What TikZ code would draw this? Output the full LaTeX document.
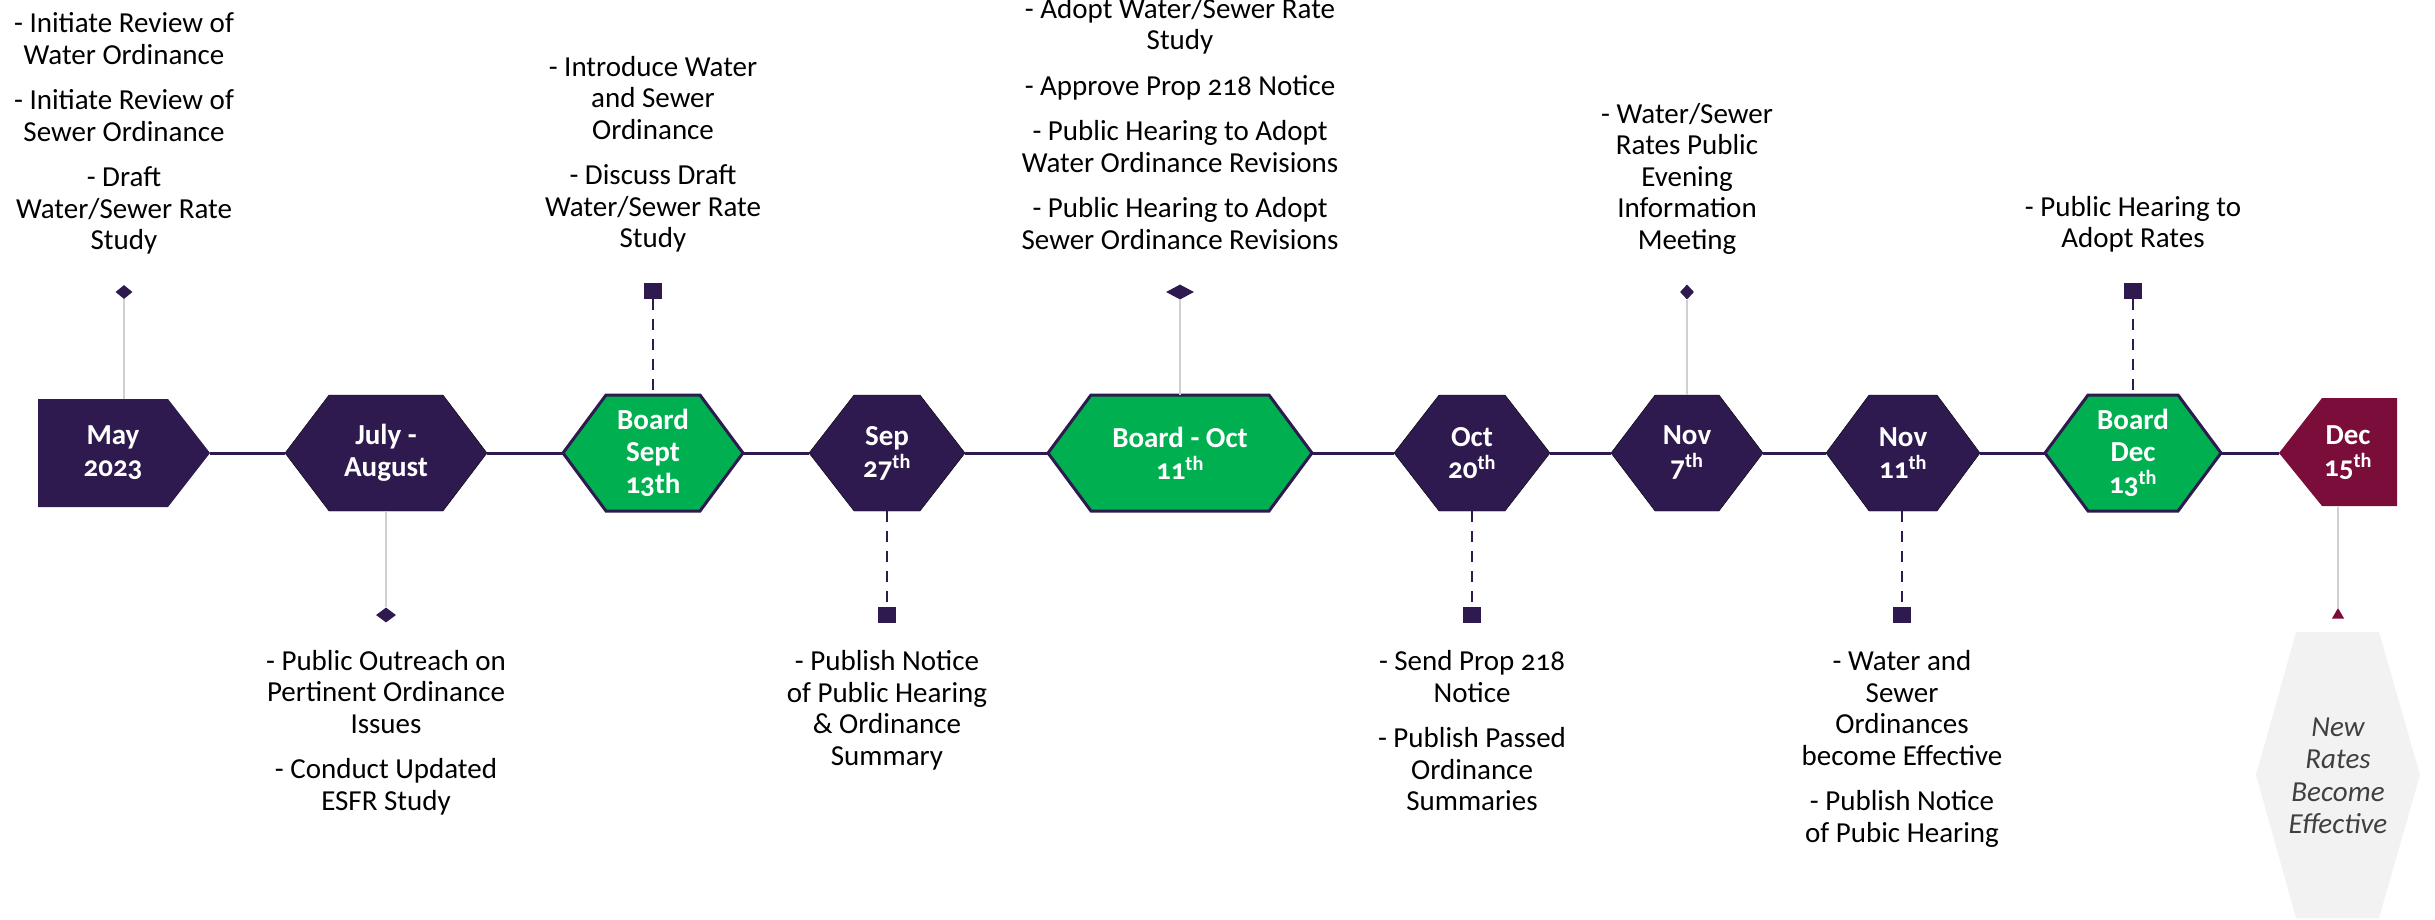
\documentclass[tikz,border=0pt]{standalone}
\usepackage{fontspec}
\setmainfont{Carlito}[Numbers=OldStyle]
\usetikzlibrary{positioning,shapes.geometric}
\definecolor{tlpurple}{HTML}{2E1A4E}
\definecolor{tlgreen}{HTML}{00B050}
\definecolor{tlmaroon}{HTML}{7B0D3B}
\definecolor{stemgrey}{HTML}{D0D0D0}
\definecolor{hexgrey}{HTML}{F2F2F2}
\definecolor{softtext}{HTML}{404040}
\tikzset{
    % hexagon looks: ordinary dates and board meetings
    plain stage/.style={fill=tlpurple}, board stage/.style={fill=tlgreen,draw=tlpurple,line width=3pt},
    stage label/.style={text=white,font=\bfseries\fontsize{29}{32}\selectfont,align=center,minimum height=116pt,inner sep=0},
    note/.style={font=\fontsize{29}{31.5}\selectfont,align=center,inner sep=0,text depth=0pt},
    % markers on the stems
    dmark/.style={diamond,fill=tlpurple,inner sep=0}, smark/.style={rectangle,fill=tlpurple,inner sep=0,minimum width=18pt,minimum height=16pt},
    tmark/.style={regular polygon,regular polygon sides=3,fill=tlmaroon,inner sep=0,minimum size=14pt},
    grey stem/.style={draw=stemgrey,line width=2pt}, dash stem/.style={draw=tlpurple,line width=2.5pt,dash pattern=on 11pt off 9pt},
    link/.style={draw=tlpurple,line width=3pt}
    }
% name, centre x, half width, corner inset, look, label
\newcommand{\hexstage}[6]{%
    \draw[#5] (#2-#3,453) -- (#2-#3+#4,395) -- (#2+#3-#4,395) -- (#2+#3,453) -- (#2+#3-#4,511) -- (#2-#3+#4,511) -- cycle;
    \node[stage label,minimum width=2*#3] (#1) at (#2,453) {#6};}

\begin{document}
\begin{tikzpicture}[x=1pt,y=-1pt]
        \useasboundingbox (0,0) rectangle (2435,919);
        % The stages
        \fill[tlpurple] (38,399) -- (168,399) -- (210,453) -- (168,507) -- (38,507) -- cycle;
        \node[stage label,minimum width=194pt,minimum height=108pt] (may) at (113,453) {May\\2023};
        \hexstage{julaug}{386}{101}{44}{plain stage}{July -\\August}
        \hexstage{bsept}{653}{90}{43}{board stage}{Board\\Sept\\13th}
        \hexstage{sep}{887}{78}{45}{plain stage}{Sep\\27\textsuperscript{th}}
        \hexstage{boct}{1180}{132}{43}{board stage}{Board - Oct\\11\textsuperscript{th}}
        \hexstage{oct}{1472}{78}{45}{plain stage}{Oct\\20\textsuperscript{th}}
        \hexstage{novseven}{1687}{76}{44}{plain stage}{Nov\\7\textsuperscript{th}}
        \hexstage{novel}{1903}{77}{43}{plain stage}{Nov\\11\textsuperscript{th}}
        \hexstage{bdec}{2133}{88}{43}{board stage}{Board\\Dec\\13\textsuperscript{th}}
        \fill[tlmaroon] (2279,453) -- (2322,398) -- (2397,398) -- (2397,506) -- (2322,506) -- cycle;
        \node[stage label,minimum width=138pt,minimum height=108pt] (dec) at (2348,453) {Dec\\15\textsuperscript{th}};
        \foreach \a/\b in {may/julaug,julaug/bsept,bsept/sep,sep/boct,boct/oct,oct/novseven,novseven/novel,novel/bdec,bdec/dec}
            \draw[link] (\a.east) -- (\b.west);
        % markers above and below
        \node[dmark,minimum width=17pt,minimum height=14pt] (mayd) at (124,292) {};
        \node[smark] (bsepts) at (653,291) {};
        \node[dmark,minimum width=28pt,minimum height=15pt] (boctd) at (1180,292) {};
        \node[dmark,minimum width=14pt,minimum height=15pt] (novsevend) at (1687,292) {};
        \node[smark] (bdecs) at (2133,291) {};
        \node[dmark,minimum width=20pt,minimum height=15pt] (julaugd) at (386,615) {};
        \node[smark] (seps) at (887,615) {};
        \node[smark] (octs) at (1472,615) {};
        \node[smark] (novels) at (1902,615) {};
        \node[tmark] (dect) at (2338,615) {};
        \draw[grey stem] (mayd.south) -- (mayd |- may.north);
        \draw[dash stem] (bsepts.south) -- (bsept.north);
        \draw[grey stem] (boctd.south) -- (boct.north);
        \draw[grey stem] (novsevend.south) -- (novseven.north);
        \draw[dash stem] (bdecs.south) -- (bdec.north);
        \draw[grey stem] (julaug.south) -- (julaugd.north);
        \draw[dash stem] (sep.south) -- (seps.north);
        \draw[dash stem] (oct.south) -- (octs.north);
        \draw[dash stem] (novels |- novel.south) -- (novels.north);
        \draw[grey stem] (dect.north) -- (dect |- dec.south);
        % notes
        \node[note,above=35pt of mayd] {- Initiate Review of\\Water Ordinance\\[14pt]- Initiate Review of\\Sewer Ordinance\\[14pt]- Draft\\Water/Sewer Rate\\Study};
        \node[note,above=35pt of bsepts] {- Introduce Water\\and Sewer\\Ordinance\\[14pt]- Discuss Draft\\Water/Sewer Rate\\Study};
        \node[note,above=35pt of boctd] {- Adopt Water/Sewer Rate\\Study\\[14pt]- Approve Prop 218 Notice\\[14pt]- Public Hearing to Adopt\\Water Ordinance Revisions\\[14pt]- Public Hearing to Adopt\\Sewer Ordinance Revisions};
        \node[note,above=35pt of novsevend] {- Water/Sewer\\Rates Public\\Evening\\Information\\Meeting};
        \node[note,above=35pt of bdecs] {- Public Hearing to\\Adopt Rates};
        \node[note,below=27pt of julaugd] {- Public Outreach on\\Pertinent Ordinance\\Issues\\[14pt]- Conduct Updated\\ESFR Study};
        \node[note,below=27pt of seps] {- Publish Notice\\of Public Hearing\\\& Ordinance\\Summary};
        \node[note,below=27pt of octs] {- Send Prop 218\\Notice\\[14pt]- Publish Passed\\Ordinance\\Summaries};
        \node[note,below=27pt of novels] {- Water and\\Sewer\\Ordinances\\become Effective\\[14pt]- Publish Notice\\of Pubic Hearing};
        % rates outcome
        \fill[hexgrey] (2256,775) -- (2296,632) -- (2379,632) -- (2420,775) -- (2379,918) -- (2296,918) -- cycle;
        \node[align=center,inner sep=0,text=softtext,font=\itshape\fontsize{29}{32.5}\selectfont] (newrates) at (2338,776) {New\\Rates\\Become\\Effective};
\end{tikzpicture}
\end{document}
